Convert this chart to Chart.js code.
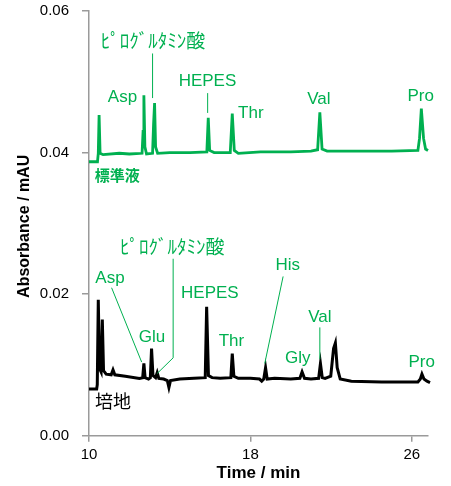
<!DOCTYPE html>
<html>
<head>
<meta charset="utf-8">
<script src="https://cdn.jsdelivr.net/npm/chart.js@4/dist/chart.umd.min.js"></script>
<style>
  html, body { margin: 0; padding: 0; background: #fff; }
  canvas { display: block; }
</style>
</head>
<body>
<canvas id="chart" width="451" height="486"></canvas>
<script>
// Chromatogram traces: [time (min), absorbance]
const standardTrace = [
    [10.0, 0.0387], [10.42, 0.0387], [10.46, 0.0399], [10.5, 0.0453], [10.55, 0.0399], [10.7, 0.0397],
    [11.5, 0.0399], [12.0, 0.0398], [12.63, 0.0399], [12.68, 0.0430], [12.72, 0.0481], [12.77, 0.0408],
    [12.85, 0.0398], [13.15, 0.0399], [13.2, 0.0440], [13.25, 0.0470], [13.3, 0.0408], [13.4, 0.0399],
    [14.0, 0.0400], [15.0, 0.0400], [15.84, 0.0401], [15.91, 0.0449], [15.98, 0.0403], [16.2, 0.0400],
    [17.0, 0.0400], [17.1, 0.0455], [17.2, 0.0403], [17.4, 0.0399], [18.5, 0.0401], [20.0, 0.0401],
    [21.0, 0.0402], [21.33, 0.0404], [21.44, 0.0457], [21.55, 0.0405], [21.8, 0.0402], [23.0, 0.0402],
    [25.0, 0.0402], [26.3, 0.0403], [26.38, 0.0420], [26.47, 0.0462], [26.58, 0.0420], [26.68, 0.0405],
    [26.8, 0.0403], [26.9, 0.0401]
];

const mediumTrace = [
    [10.0, 0.0066], [10.38, 0.0066], [10.41, 0.0072], [10.46, 0.0192], [10.52, 0.0095], [10.6, 0.0090],
    [10.66, 0.0164], [10.72, 0.0092], [10.85, 0.0087], [11.1, 0.0086], [11.19, 0.0093], [11.28, 0.0086],
    [11.8, 0.0084], [12.5, 0.0081], [12.66, 0.0082], [12.72, 0.0102], [12.78, 0.0082], [12.95, 0.0080],
    [13.04, 0.0082], [13.1, 0.0123], [13.17, 0.0085], [13.3, 0.0082], [13.38, 0.0089], [13.46, 0.0081],
    [13.7, 0.0080], [13.88, 0.0078], [13.96, 0.0068], [14.04, 0.0078], [14.5, 0.0080], [15.2, 0.0081],
    [15.76, 0.0082], [15.83, 0.0182], [15.92, 0.0085], [16.1, 0.0082], [16.5, 0.0081], [17.03, 0.0082],
    [17.1, 0.0116], [17.18, 0.0084], [17.4, 0.0081], [18.0, 0.0081], [18.45, 0.0080], [18.56, 0.0077],
    [18.66, 0.0080], [18.75, 0.0096], [18.83, 0.0080], [19.2, 0.0081], [20.0, 0.0080], [20.45, 0.0081],
    [20.56, 0.0090], [20.68, 0.0081], [21.0, 0.0080], [21.38, 0.0081], [21.47, 0.0102], [21.56, 0.0082],
    [21.7, 0.0081], [21.98, 0.0084], [22.12, 0.0123], [22.21, 0.0131], [22.3, 0.0096], [22.45, 0.0080],
    [23.0, 0.0077], [24.5, 0.0076], [26.3, 0.0076], [26.42, 0.0080], [26.5, 0.0087], [26.6, 0.0080],
    [26.75, 0.0077], [26.9, 0.0075]
];

const xTicks = [10, 18, 26];
const yTicks = [0, 0.02, 0.04, 0.06];

const GREEN = '#00B050';
const AXIS = '#9a9a9a';
const LATIN = '"Liberation Sans", Arial, "Noto Sans CJK JP", sans-serif';
const PYRO = 'ﾋﾟﾛｸﾞﾙﾀﾐﾝ酸';

// peak labels, anchored in data units (time, absorbance)
const peakLabels = [
    { text: PYRO, t: 13.17, v: 0.0555, color: GREEN, size: 19 },
    { text: 'Asp', t: 11.66, v: 0.0478, color: GREEN },
    { text: 'HEPES', t: 15.87, v: 0.0500, color: GREEN },
    { text: 'Thr', t: 18.02, v: 0.0455, color: GREEN },
    { text: 'Val', t: 21.39, v: 0.0475, color: GREEN },
    { text: 'Pro', t: 26.44, v: 0.0480, color: GREEN },
    { text: '標準液', t: 11.40, v: 0.0365, color: GREEN, bold: true, size: 15 },
    { text: PYRO, t: 14.13, v: 0.0264, color: GREEN, size: 19 },
    { text: 'Asp', t: 11.04, v: 0.0222, color: GREEN },
    { text: 'Glu', t: 13.12, v: 0.0139, color: GREEN },
    { text: 'HEPES', t: 15.99, v: 0.0201, color: GREEN },
    { text: 'Thr', t: 17.06, v: 0.0133, color: GREEN },
    { text: 'His', t: 19.85, v: 0.0241, color: GREEN },
    { text: 'Gly', t: 20.35, v: 0.0109, color: GREEN },
    { text: 'Val', t: 21.44, v: 0.0167, color: GREEN },
    { text: 'Pro', t: 26.49, v: 0.0104, color: GREEN },
    { text: '培地', t: 11.19, v: 0.0046, color: '#000', size: 18 }
];

// leader lines from labels to peaks, as polylines in data units
const leaderLines = [
    [[13.15, 0.0540], [13.15, 0.0477]],
    [[15.88, 0.0484], [15.88, 0.0456]],
    [[14.17, 0.0250], [14.17, 0.0110], [13.38, 0.0088]],
    [[11.12, 0.0209], [12.61, 0.0104]],
    [[19.62, 0.0225], [18.71, 0.0102]],
    [[21.44, 0.0153], [21.44, 0.0108]]
];

const annotationPlugin = {
    id: 'annotations',
    afterDatasetsDraw(chart) {
        const ctx = chart.ctx;
        const xs = chart.scales.x, ys = chart.scales.y;
        const area = chart.chartArea;
        ctx.save();

        ctx.strokeStyle = GREEN;
        ctx.lineWidth = 1;
        leaderLines.forEach(line => {
            ctx.beginPath();
            line.forEach((p, i) => {
                const px = xs.getPixelForValue(p[0]), py = ys.getPixelForValue(p[1]);
                if (i === 0) ctx.moveTo(px, py); else ctx.lineTo(px, py);
            });
            ctx.stroke();
        });

        ctx.textAlign = 'center';
        ctx.textBaseline = 'middle';
        peakLabels.forEach(l => {
            ctx.fillStyle = l.color;
            ctx.font = (l.bold ? 'bold ' : '') + (l.size || 17) + 'px ' + LATIN;
            ctx.fillText(l.text, xs.getPixelForValue(l.t), ys.getPixelForValue(l.v));
        });

        // axis titles
        ctx.fillStyle = '#000';
        ctx.font = 'bold 17px ' + LATIN;
        ctx.fillText('Time / min', (area.left + area.right) / 2, 473);
        ctx.translate(25, (area.top + area.bottom) / 2 + 3);
        ctx.rotate(-Math.PI / 2);
        ctx.font = 'bold 16px ' + LATIN;
        ctx.fillText('Absorbance / mAU', 0, 0);
        ctx.restore();
    }
};

new Chart(document.getElementById('chart'), {
    type: 'scatter',
    data: {
        datasets: [
            {
                label: '標準液',
                data: standardTrace.map(p => ({ x: p[0], y: p[1] })),
                showLine: true,
                borderColor: GREEN,
                borderWidth: 2.8,
                pointRadius: 0,
                tension: 0,
                clip: false
            },
            {
                label: '培地',
                data: mediumTrace.map(p => ({ x: p[0], y: p[1] })),
                showLine: true,
                borderColor: '#000',
                borderWidth: 3,
                pointRadius: 0,
                tension: 0,
                clip: false
            }
        ]
    },
    options: {
        responsive: false,
        animation: false,
        devicePixelRatio: 1,
        layout: { padding: { top: 11, right: 23, bottom: 0, left: 0 } },
        plugins: { legend: { display: false }, tooltip: { enabled: false } },
        scales: {
            x: {
                type: 'linear',
                min: 10,
                max: 26.8,
                afterBuildTicks: s => { s.ticks = xTicks.map(v => ({ value: v })); },
                afterFit: s => { s.height = 50.3; s.paddingLeft = 0; s.paddingRight = 0; },
                ticks: { color: '#000', font: { size: 15, family: LATIN }, padding: 4, maxRotation: 0 },
                grid: { drawOnChartArea: false, drawTicks: true, tickLength: 6, color: AXIS, lineWidth: 1.5 },
                border: { color: AXIS, width: 1.5 }
            },
            y: {
                min: 0,
                max: 0.06,
                afterBuildTicks: s => { s.ticks = yTicks.map(v => ({ value: v })); },
                afterFit: s => { s.width = 89; s.paddingTop = 0; s.paddingBottom = 0; },
                ticks: { color: '#000', font: { size: 15, family: LATIN }, padding: 13, callback: v => v.toFixed(2) },
                grid: { drawOnChartArea: false, drawTicks: true, tickLength: 7, color: AXIS, lineWidth: 1.5 },
                border: { color: AXIS, width: 1.5 }
            }
        }
    },
    plugins: [annotationPlugin]
});
</script>
</body>
</html>
